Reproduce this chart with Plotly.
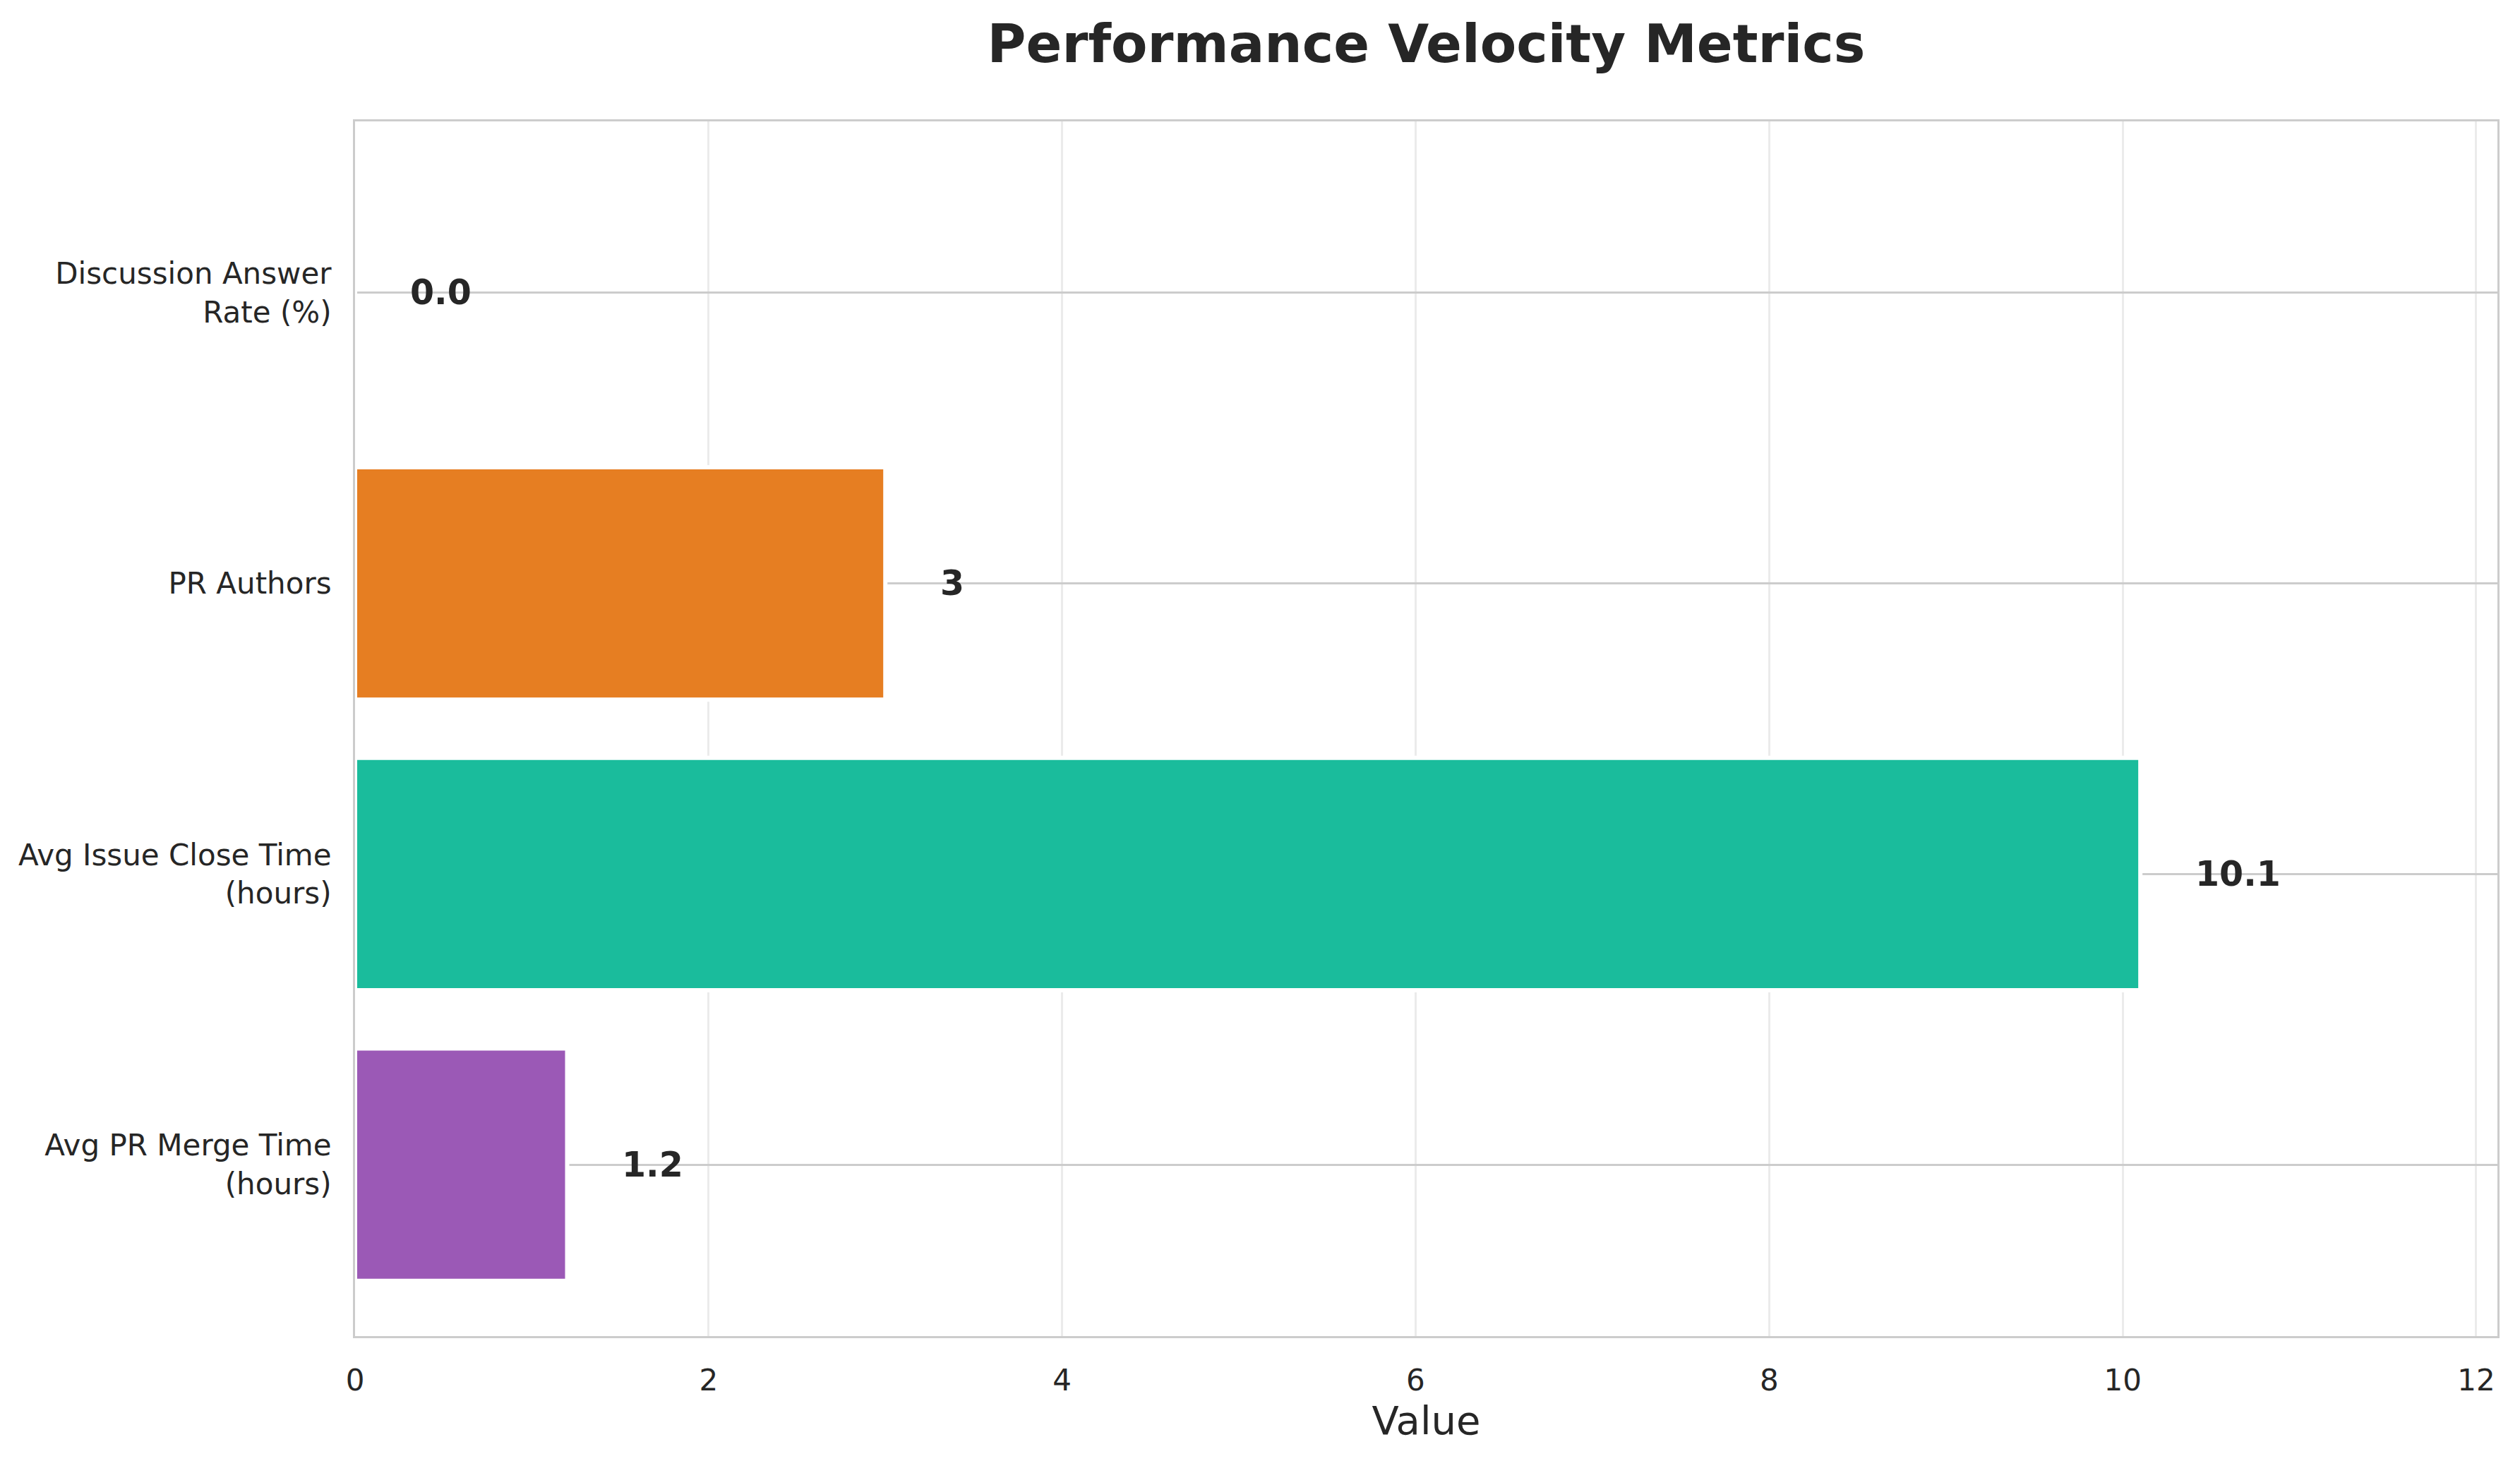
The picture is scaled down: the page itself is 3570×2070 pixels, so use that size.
import plotly.graph_objects as go

# Data (bottom to top, as in matplotlib barh order)
categories = [
    "Avg PR Merge Time<br>(hours)",
    "Avg Issue Close Time<br>(hours)",
    "PR Authors",
    "Discussion Answer<br>Rate (%)",
]
values = [1.2, 10.1, 3, 0.0]
value_labels = ["1.2", "10.1", "3", "0.0"]
colors = ["#9b59b6", "#1abc9c", "#e67e22", "#3498db"]
x_ticks = [0, 2, 4, 6, 8, 10, 12]

positions = list(range(len(categories)))
FONT = "DejaVu Sans"
TEXT = "#262626"

L, R, T, B = 495, 40, 164, 185
W, H = 3570, 2070

fig = go.Figure()
fig.add_trace(go.Bar(
    x=values,
    y=positions,
    orientation="h",
    width=0.8,
    marker=dict(color=colors, line=dict(color="white", width=6)),
    hoverinfo="skip",
    showlegend=False,
))

x_max = max(values) * 1.2
offset = x_max * 0.025

for p, v, lab in zip(positions, values, value_labels):
    fig.add_annotation(
        x=v + offset, y=p, xref="x", yref="y",
        text="<b>%s</b>" % lab, showarrow=False,
        xanchor="left", yanchor="middle",
        font=dict(family=FONT, size=49, color=TEXT),
    )

fig.update_layout(
    width=W, height=H,
    margin=dict(l=L, r=R, t=T, b=B, autoexpand=False),
    paper_bgcolor="white",
    plot_bgcolor="white",
    title=dict(
        text="<b>Performance Velocity Metrics</b>",
        x=(L + (W - R)) / 2 / W, xanchor="center",
        y=1 - 54 / H, yanchor="middle",
        font=dict(family=FONT, size=75, color=TEXT),
    ),
    font=dict(family=FONT, color=TEXT),
)

fig.update_xaxes(
    range=[0, x_max],
    tickvals=x_ticks,
    ticktext=[str(t) for t in x_ticks],
    tickfont=dict(family=FONT, size=42, color=TEXT),
    showgrid=True, gridcolor="#ebebeb", gridwidth=3,
    showline=True, linecolor="#cccccc", linewidth=3, mirror=True,
    zeroline=False,
    ticks="", ticklabelstandoff=24,
    title=dict(text="Value", font=dict(family=FONT, size=56, color=TEXT), standoff=10),
)

fig.update_yaxes(
    range=[-0.59, 3.59],
    tickvals=positions,
    ticktext=categories,
    tickfont=dict(family=FONT, size=42, color=TEXT),
    showgrid=True, gridcolor="#cccccc", gridwidth=3,
    showline=True, linecolor="#cccccc", linewidth=3, mirror=True,
    zeroline=False,
    ticks="", ticklabelstandoff=22,
)

fig.write_html("out.html")
